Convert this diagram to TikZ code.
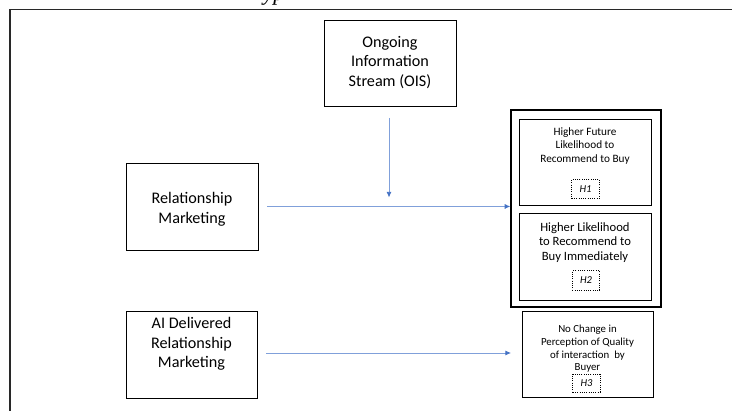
\documentclass[tikz,border=0pt]{standalone}
\usepackage{fontspec}
\setmainfont{Carlito}
\newfontfamily\capfont{Liberation Serif}
\usetikzlibrary{arrows.meta,positioning}
\definecolor{linkline}{RGB}{128,160,218}
\definecolor{linktip}{RGB}{68,114,196}
\definecolor{framegray}{RGB}{40,40,40}
\tikzset{
  box/.style={draw, line width=0.6pt, minimum width=3.3cm, minimum height=2.15cm, inner sep=0pt},
  txt/.style={align=center, inner sep=0pt, font=\fontsize{11.5}{13.9}\selectfont},
  tag/.style={draw, densely dotted, line width=0.6pt, minimum width=0.68cm, minimum height=0.48cm, inner sep=0pt, font=\fontsize{7.5}{9}\selectfont\itshape},
  link/.style={draw=linkline, line width=0.6pt, -{Latex[length=4pt,width=3.6pt,color=linktip]}}
}
\begin{document}
\begin{tikzpicture}[x=0.025cm,y=-0.025cm]
        \useasboundingbox (0,0) rectangle (732,411);
        \clip (0,0) rectangle (732,411);

        % frame and cut caption
        \draw[framegray, line width=1.4pt] (10,430) -- (10,9.5) -- (750,9.5);
        \node[anchor=base west, inner sep=0pt, font=\capfont\itshape\fontsize{16}{18}\selectfont] (cap) at (263,0.5) {yp};

        % drivers
        \node[box] (ois) at (390,63) {};
        \node[txt] (oistxt) at (390,62.5) {Ongoing\\Information\\Stream (OIS)};
        \node[box, minimum height=2.175cm] (rm) at (192,206.5) {};
        \node[txt] (rmtxt) at (192,209.5) {Relationship\\Marketing};
        \node[box, minimum width=3.275cm, minimum height=2.175cm] (ai) at (191.5,354.5) {};
        \node[txt] (aitxt) at (191.5,344) {AI Delivered\\Relationship\\Marketing};

        % outcomes
        \node[draw, line width=0.9pt, minimum width=3.75cm, minimum height=4.925cm, inner sep=0pt] (grp) at (586,208.5) {};
        \node[box] (h1) at (585,162) {};
        \node[txt, font=\fontsize{8}{9.6}\selectfont] (h1txt) at (585,146) {Higher Future\\Likelihood to\\Recommend to Buy};
        \node[tag] (t1) at (585.5,189) {H1};
        \node[box, minimum height=2.175cm] (h2) at (585,256.5) {};
        \node[txt, font=\fontsize{9}{10.4}\selectfont] (h2txt) at (585,242.5) {Higher Likelihood\\to Recommend to\\Buy Immediately};
        \node[tag] (t2) at (586,280.5) {H2};
        \node[box, minimum width=3.275cm] (h3) at (587.5,354) {};
        \node[txt, font=\fontsize{7.7}{9}\selectfont] (h3txt) at (587.5,349) {No Change in\\Perception of Quality\\of interaction~ by\\Buyer};
        \node[tag, minimum height=0.45cm] (t3) at (586.5,383) {H3};

        \coordinate (oisout) at (389,118);
        \coordinate (oisin) at (389,197.5);
        \coordinate (rmout) at (267,206.5);
        \coordinate (aiout) at (266,353);
        \coordinate (h3in) at (511,353);

        \begin{scope}[every path/.style={link}]
        \draw (oisout) -- (oisin);
        \draw (rmout) -- (rmout -| grp.west);
        \draw (aiout) -- (h3in);
        \end{scope}

        \end{tikzpicture}
\end{document}
